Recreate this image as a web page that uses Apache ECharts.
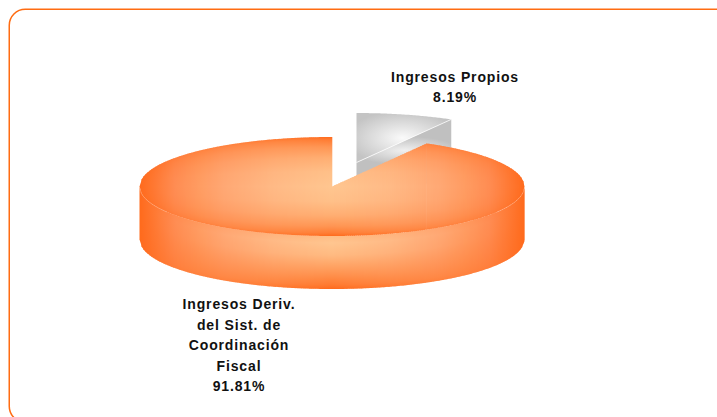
<!DOCTYPE html>
<html>
<head>
<meta charset="utf-8">
<style>
html,body{margin:0;padding:0;background:#fff;overflow:hidden}
#c{width:717px;height:417px}
#c text{letter-spacing:0.85px}
</style>
<script src="https://cdn.jsdelivr.net/npm/echarts@6/dist/echarts.min.js"></script>
</head>
<body>
<div id="c"></div>
<script>
const categories = ['Ingresos Propios', 'Ingresos Deriv.\ndel Sist. de\nCoordinación\nFiscal'];
const values = [8.19, 91.81];

const total = values.reduce((a, b) => a + b, 0);
const RX = 192.5, RY = 49.5, DEPTH = 53, CX = 332, CY = 186.5;
const EXPLODE = [[24.5, -24], [0, 0]];
const LABEL_POS = [[455, 87], [239, 345]];

function radial(x, y, r, stops) {
  return {type: 'radial', x, y, r, global: true,
    colorStops: stops.map(([offset, color]) => ({offset, color}))};
}
const ACROSS = [[0, '#FFC690'], [0.3, '#FFBA86'], [0.56, '#FFA874'], [0.69, '#FF9C62'], [0.82, '#FF8C52'], [1, '#FF6A1C']];
const WALL_DOWN = [[0, 0.1], [0.13, 0], [0.36, 0.13], [0.55, 0.36], [0.74, 0.59], [0.92, 0.83], [1, 1]];
const FACE_DOWN = [[0, 1], [0.03, 0.8], [0.1, 0.53], [0.21, 0.26], [0.35, 0.065], [0.5, 0], [0.65, 0.065], [0.79, 0.26], [0.9, 0.53], [0.97, 0.8], [1, 1]];
const DARK = [255, 106, 28];
const GREY_TOP = [[0, '#FAFAFA'], [1, '#C4C4C4']];
const GREY_WALL = [[0, '#F0F0F0'], [1, '#C0C0C0']];

function hex(c) { return [1, 3, 5].map(k => parseInt(c.substr(k, 2), 16)); }
function across(t) {
  for (let k = 1; k < ACROSS.length; k++) {
    if (t <= ACROSS[k][0]) {
      const [t0, c0] = ACROSS[k - 1], [t1, c1] = ACROSS[k];
      const f = (t - t0) / (t1 - t0), a = hex(c0), b = hex(c1);
      return a.map((v, j) => v + (b[j] - v) * f);
    }
  }
  return hex(ACROSS[ACROSS.length - 1][1]);
}
const rim = x => RY * Math.sqrt(Math.max(0, 1 - x * x / (RX * RX)));

function arc(a0, a1, rx, ry, ox, oy, n) {
  const pts = [];
  n = n || 60;
  for (let i = 0; i <= n; i++) {
    const a = a0 + (a1 - a0) * i / n;
    pts.push([ox + rx * Math.cos(a), oy + ry * Math.sin(a)]);
  }
  return pts;
}

function ellipseFilled(ox, oy, pts, gx, gy, grx, gry, stops) {
  const s = gry / grx;
  return {type: 'group', x: ox, y: oy, scaleY: s, children: [{
    type: 'polygon',
    shape: {points: pts.map(p => [p[0], p[1] / s])},
    style: {fill: radial(gx, gy / s, grx, stops)}
  }]};
}

function strip(points, yFrom, yTo, u, down) {
  const base = across(u), fade = 1 - 0.67 * u;
  return {type: 'polygon', shape: {points},
    style: {fill: {type: 'linear', x: 0, y: yFrom, x2: 0, y2: Math.max(yTo, yFrom + 0.5), global: true,
      colorStops: down.map(([offset, alpha]) => {
        const m = alpha * fade;
        const c = base.map((v, j) => Math.round(v + (DARK[j] - v) * m));
        return {offset, color: 'rgb(' + c.join(',') + ')'};
      })}}};
}

// The side of the disc as narrow strips, each shaded from its own rim to its own bottom edge.
function wallStrips(ox, oy) {
  const out = [], step = 2;
  for (let x = -RX; x < RX; x += step) {
    const x1 = Math.min(RX, x + step + 0.8);
    const xm = x + step / 2, u = Math.min(1, Math.abs(xm) / RX), ym = rim(xm);
    out.push(strip(
      [[ox + x, oy + rim(x)], [ox + x1, oy + rim(x1)], [ox + x1, oy + rim(x1) + DEPTH], [ox + x, oy + rim(x) + DEPTH]],
      oy + ym, oy + ym + DEPTH, u, WALL_DOWN));
  }
  return out;
}

// The top of the large slice as strips too; between x=0 and the far end of the cut the
// upper boundary is the slice's radial edge instead of the rim.
function faceStrips(ox, oy, cutX, cutY) {
  const breaks = [];
  for (let x = -RX; x < 0; x += 2) breaks.push(x);
  for (let x = 0; x < cutX; x += 2) breaks.push(x);
  for (let x = cutX; x < RX; x += 2) breaks.push(x);
  breaks.push(RX);
  const upper = x => (x >= 0 && x < cutX - 1e-6) ? x * cutY / cutX : -rim(x);
  const out = [];
  for (let k = 0; k + 1 < breaks.length; k++) {
    const x = breaks[k];
    const next = breaks[k + 1];
    const isLastBefore = (next === 0 || next === cutX || next === RX);
    const x1 = isLastBefore ? next : next + 0.8;
    const xm = (x + next) / 2, u = Math.min(1, Math.abs(xm) / RX), ym = rim(xm);
    const top0 = (x >= 0 && x < cutX) ? x * cutY / cutX : -rim(x);
    const top1 = (x >= 0 && x < cutX) ? x1 * cutY / cutX : -rim(x1);
    out.push(strip(
      [[ox + x, oy + top0], [ox + x1, oy + top1], [ox + x1, oy + rim(x1)], [ox + x, oy + rim(x)]],
      oy - ym, oy + ym, u, FACE_DOWN));
  }
  return out;
}

function renderItem(params, api) {
  const i = params.dataIndex;
  let before = 0;
  for (let k = 0; k < i; k++) before += values[k];
  const a0 = -Math.PI / 2 + before / total * 2 * Math.PI;
  const a1 = a0 + api.value(1) / total * 2 * Math.PI;
  const ox = CX + EXPLODE[i][0], oy = CY + EXPLODE[i][1];
  const children = [];
  if (i === 0) {
    const face = [[0, 0]].concat(arc(a0, a1, RX, RY, 0, 0, 60));
    const ex = RX * Math.cos(a1), ey = RY * Math.sin(a1);
    children.push(ellipseFilled(ox, oy, [[0, 0], [ex, ey], [ex, ey + DEPTH], [0, DEPTH]],
      48, -12, 55, 14, GREY_WALL));
    children.push(ellipseFilled(ox, oy, face, 46, -24.5, 56, 27, GREY_TOP));
    children.push({type: 'polyline',
      shape: {points: [[ox, oy], [ox + ex, oy + ey]]},
      style: {stroke: 'rgba(255,255,255,0.75)', lineWidth: 1, fill: 'none'}});
  } else {
    wallStrips(ox, oy).forEach(s => children.push(s));
    faceStrips(ox, oy, RX * Math.cos(a0), RY * Math.sin(a0)).forEach(s => children.push(s));
    const seam = {stroke: 'rgba(255,255,255,0.2)', lineWidth: 1, fill: 'none'};
    children.push({type: 'polyline', shape: {points: arc(0, 0.54, RX, RY, ox, oy)}, style: seam});
    children.push({type: 'polyline', shape: {points: arc(Math.PI, Math.PI - 0.54, RX, RY, ox, oy)}, style: seam});
  }
  children.push({type: 'text', z2: 10,
    style: {
      text: categories[i] + '\n' + api.value(1).toFixed(2) + '%',
      x: LABEL_POS[i][0], y: LABEL_POS[i][1],
      align: 'center', verticalAlign: 'middle',
      font: 'bold 14px "Liberation Sans", Arial, sans-serif',
      lineHeight: 20.5, fill: '#111111'
    }});
  return {type: 'group', children};
}

const chart = echarts.init(document.getElementById('c'), null, {renderer: 'svg', width: 717, height: 417});
chart.setOption({
  animation: false,
  backgroundColor: '#FFFFFF',
  graphic: [{
    type: 'rect', z: -1, silent: true,
    shape: {x: 9.25, y: 9.25, width: 740, height: 413, r: 16},
    style: {fill: '#FFFFFF', stroke: '#FF6C12', lineWidth: 1.5}
  }],
  series: [{
    type: 'custom',
    coordinateSystem: 'none',
    silent: true,
    renderItem,
    data: values.map((v, i) => ({name: categories[i], value: [i, v]}))
  }]
});
</script>
</body>
</html>
